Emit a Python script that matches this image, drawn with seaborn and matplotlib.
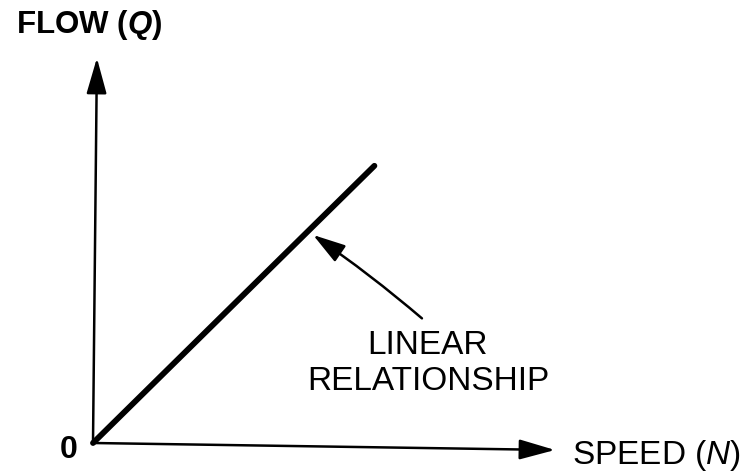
import numpy as np
import pandas as pd
import matplotlib
matplotlib.use("Agg")
import matplotlib.pyplot as plt
import seaborn as sns

# data: straight line flow vs speed
speed = [0, 10.05]
flow = [0, 9.9]

sns.set_style("white")
plt.rcParams['font.family'] = ['Liberation Sans', 'DejaVu Sans']
plt.rcParams['text.color'] = 'black'
plt.rcParams['mathtext.fontset'] = 'custom'
plt.rcParams['mathtext.it'] = 'Liberation Sans:italic'
plt.rcParams['mathtext.bf'] = 'Liberation Sans:bold:italic'

PX = 28.0  # pixels per data unit
W, H = 746, 475
OX, OY = 93, 443  # origin in pixels (from top-left)

fig = plt.figure(figsize=(W / 100, H / 100), dpi=100)
ax = fig.add_axes([0, 0, 1, 1])
ax.set_xlim(-OX / PX, (W - OX) / PX)
ax.set_ylim(-(H - OY) / PX, OY / PX)
ax.axis('off')

df = pd.DataFrame({'speed': speed, 'flow': flow})
sns.lineplot(data=df, x='speed', y='flow', color='black', lw=4.2, ax=ax,
             solid_capstyle='round')

# axes with arrow heads (scan is slightly rotated)
arrow_kw = dict(arrowstyle='-|>,head_length=2.2,head_width=0.62', color='black',
                lw=1.8, shrinkA=0, shrinkB=0, mutation_scale=10)
ax.annotate('', xy=(16.5, -0.25), xytext=(0, 0), arrowprops=arrow_kw)
ax.annotate('', xy=(0.14, 13.75), xytext=(0, 0), arrowprops=arrow_kw)

# labels
ax.text(-2.75, 14.93, r'FLOW ($\mathbf{Q}$)', fontsize=22.5, fontweight='bold',
        ha='left', va='center')
ax.text(-0.86, -0.25, '0', fontsize=23, fontweight='bold', ha='center', va='center')
ax.text(17.1, -0.45, r'SPEED ($\mathit{N}$)', fontsize=24, ha='left', va='center')

ax.annotate('LINEAR\nRELATIONSHIP', xy=(7.86, 7.43), xytext=(11.96, 2.85),
            fontsize=24, ha='center', va='center', linespacing=1.2,
            arrowprops=dict(arrowstyle='-|>,head_length=2.0,head_width=0.6',
                            color='black', lw=1.8, shrinkA=9, shrinkB=0,
                            mutation_scale=10,
                            connectionstyle='arc3,rad=0.03',
                            relpos=(0.53, 1.0)))

fig.savefig('out.png', dpi=100, facecolor='white')
